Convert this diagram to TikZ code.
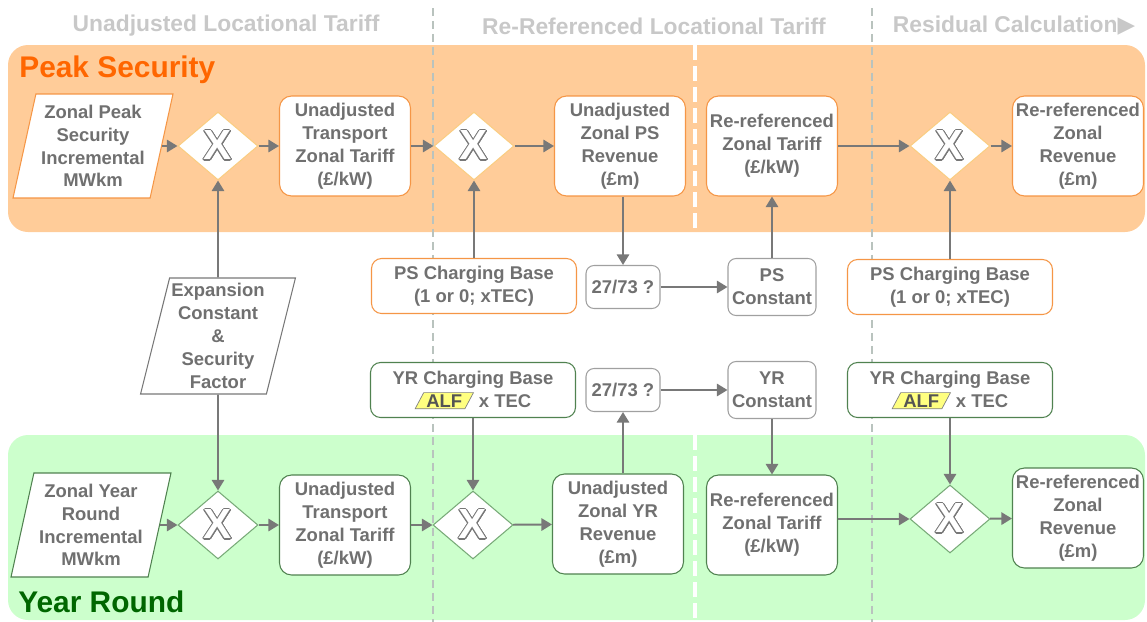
\documentclass[tikz,border=0pt]{standalone}
\usepackage{fontspec}
\setmainfont{Liberation Sans}
\newfontfamily\symfont{DejaVu Sans}
\usepackage[copies]{contour}
\contourlength{0.6pt}
\usepackage{xcolor,tikz}
\usetikzlibrary{arrows.meta,positioning,shapes.geometric}
\definecolor{txtgray}{RGB}{112,112,112}
\definecolor{linegray}{RGB}{120,120,120}
\definecolor{headgray}{RGB}{200,200,200}
\definecolor{divgray}{RGB}{185,195,190}
\definecolor{midline}{RGB}{160,160,160}
\definecolor{psband}{RGB}{255,204,153}
\definecolor{yrband}{RGB}{204,255,204}
\definecolor{psorange}{RGB}{255,102,0}
\definecolor{yrgreen}{RGB}{0,102,0}
\definecolor{psline}{RGB}{245,150,70}
\definecolor{psgate}{RGB}{250,205,130}
\definecolor{yrline}{RGB}{80,130,80}
\definecolor{yrgate}{RGB}{120,170,120}
\definecolor{alfyellow}{RGB}{255,255,128}
\newcommand{\xsign}{\textcolor{white}{\contour{linegray}{X}}}
\newcommand{\alf}{\tikz[baseline=(alftag.base)]\node[alfbox] (alftag) {ALF};}

\begin{document}
\begin{tikzpicture}[x=0.02cm,y=-0.02cm,font=\fontsize{10.5}{13}\selectfont\bfseries,
  box/.style={rectangle,draw,fill=white,rounded corners=0.24cm,line width=0.6pt,align=center,
    inner sep=1pt,text=txtgray,minimum width=2.62cm,minimum height=2cm},
  psedge/.style={draw=psline},
  yredge/.style={draw=yrline},
  midedge/.style={draw=midline},
  gate/.style={diamond,draw,fill=white,line width=0.6pt,inner sep=0pt,
    minimum width=1.6cm,minimum height=1.36cm,font=\fontsize{24}{24}\selectfont\bfseries},
  infeed/.style={trapezium,trapezium left angle=75,trapezium right angle=105,
    trapezium stretches body,draw,fill=white,line width=0.6pt,align=center,inner sep=1pt,
    text=txtgray,minimum width=3.2cm,minimum height=2.08cm},
  basebox/.style={box,minimum width=4.1cm,minimum height=1.1cm,rounded corners=0.2cm},
  ratiobox/.style={box,midedge,minimum width=1.48cm,minimum height=0.86cm,rounded corners=0.16cm},
  constbox/.style={box,midedge,minimum width=1.76cm,minimum height=1.14cm,rounded corners=0.16cm},
  alfbox/.style={trapezium,trapezium left angle=62,trapezium right angle=118,
    trapezium stretches body,sharp corners,minimum width=0pt,minimum height=0pt,
    fill=alfyellow,draw=gray,line width=0.4pt,inner xsep=1.5pt,inner ysep=1pt,
    text=txtgray!75!black},
  conn/.style={draw=linegray,line width=1.1pt,-{Triangle[length=6pt,width=7pt]}},
  colhead/.style={text=headgray,font=\fontsize{13}{15}\selectfont\bfseries},
  bandlabel/.style={anchor=west,inner sep=0pt,font=\fontsize{17}{20}\selectfont\bfseries}]
\useasboundingbox (0,0) rectangle (1147,622);
\fill[psband,rounded corners=0.4cm] (8,45) rectangle (1145,232);
\fill[yrband,rounded corners=0.4cm] (8,435) rectangle (1145,620);
\draw[white,line width=2.5pt,dash pattern=on 0.3cm off 0.12cm] (695,45) -- (695,232);
\draw[white,line width=2.5pt,dash pattern=on 0.3cm off 0.12cm] (695,435) -- (695,620);
\draw[divgray,line width=1.1pt,dash pattern=on 0.16cm off 0.1cm] (433,8) -- (433,622);
\draw[divgray,line width=1.1pt,dash pattern=on 0.16cm off 0.1cm] (872,8) -- (872,622);

\node[colhead] (head1) at (226,26) {Unadjusted Locational Tariff};
\node[colhead] (head2) at (654,26) {Re-Referenced Locational Tariff};
\node[colhead] (head3) at (1014,26) {Residual Calculation{\symfont ▶}};
\node[bandlabel,text=psorange] (pslabel) at (19,70) {Peak Security};
\node[bandlabel,text=yrgreen] (yrlabel) at (18,602) {Year Round};

\node[infeed,draw=psline] (psin) at (93,146) {Zonal Peak\\Security\\Incremental\\MWkm};
\node[gate,draw=psgate] (psx1) at (218,146) {\xsign};
\node[box,psedge] (pstrans) at (345,146) {Unadjusted\\Transport\\Zonal Tariff\\(£/kW)};
\node[gate,draw=psgate] (psx2) at (474,146) {\xsign};
\node[box,psedge] (psrev) at (620,146) {Unadjusted\\Zonal PS\\Revenue\\(£m)};
\node[box,psedge] (psreftar) at (772,146) {Re-referenced\\Zonal Tariff\\(£/kW)};
\node[gate,draw=psgate] (psx3) at (950,146) {\xsign};
\node[box,psedge] (psrefrev) at (1078,146) {Re-referenced\\Zonal\\Revenue\\(£m)};

\node[infeed,draw=linegray,minimum width=2.92cm,minimum height=2.32cm] (expn) at (218,336)
  {Expansion\\Constant\\\&\\Security\\Factor};
\node[basebox,psedge] (psbasel) at (474,286) {PS Charging Base\\(1 or 0; xTEC)};
\node[ratiobox] (psratio) at (623,287) {27/73 ?};
\node[constbox] (psconst) at (772,287) {PS\\Constant};
\node[basebox,psedge] (psbaser) at (950,287) {PS Charging Base\\(1 or 0; xTEC)};
\node[basebox,yredge] (yrbasel) at (473,390) {YR Charging Base\\\alf{} x TEC};
\node[ratiobox] (yrratio) at (623,390) {27/73 ?};
\node[constbox] (yrconst) at (772,390) {YR\\Constant};
\node[basebox,yredge] (yrbaser) at (950,390) {YR Charging Base\\\alf{} x TEC};

\node[infeed,draw=yrline] (yrin) at (91,525) {Zonal Year\\Round\\Incremental\\MWkm};
\node[gate,draw=yrgate] (yrx1) at (218,525) {\xsign};
\node[box,yredge] (yrtrans) at (345,525) {Unadjusted\\Transport\\Zonal Tariff\\(£/kW)};
\node[gate,draw=yrgate] (yrx2) at (473,525) {\xsign};
\node[box,yredge] (yrrev) at (618,524) {Unadjusted\\Zonal YR\\Revenue\\(£m)};
\node[box,yredge] (yrreftar) at (772,525) {Re-referenced\\Zonal Tariff\\(£/kW)};
\node[gate,draw=yrgate] (yrx3) at (950,519) {\xsign};
\node[box,yredge] (yrrefrev) at (1078,518) {Re-referenced\\Zonal\\Revenue\\(£m)};

\draw[conn] (psin) -- (psx1);
\draw[conn] (psx1) -- (pstrans);
\draw[conn] (pstrans) -- (psx2);
\draw[conn] (psx2) -- (psrev);
\draw[conn] (psreftar) -- (psx3);
\draw[conn] (psx3) -- (psrefrev);
\draw[conn] (expn) -- (psx1);
\draw[conn] (expn) -- (yrx1);
\draw[conn] (psbasel) -- (psx2);
\draw[conn] (psratio.north |- psrev.south) -- (psratio);
\draw[conn] (psratio) -- (psconst);
\draw[conn] (psconst) -- (psreftar);
\draw[conn] (psbaser) -- (psx3);
\draw[conn] (yrbasel) -- (yrx2);
\draw[conn] (yrratio.south |- yrrev.north) -- (yrratio);
\draw[conn] (yrratio) -- (yrconst);
\draw[conn] (yrconst) -- (yrreftar);
\draw[conn] (yrbaser) -- (yrx3);
\draw[conn] (yrin) -- (yrx1);
\draw[conn] (yrx1) -- (yrtrans);
\draw[conn] (yrtrans) -- (yrx2);
\draw[conn] (yrx2) -- (yrrev);
\draw[conn] (yrreftar.east |- yrx3) -- (yrx3);
\draw[conn] (yrx3) -- (yrrefrev);
\end{tikzpicture}
\end{document}
